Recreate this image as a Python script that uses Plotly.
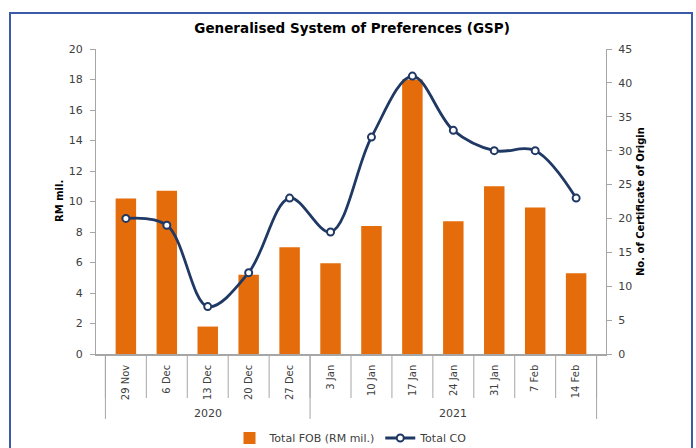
import plotly.graph_objects as go

# ---- data ----
weeks = ["29 Nov", "6 Dec", "13 Dec", "20 Dec", "27 Dec", "3 Jan",
         "10 Jan", "17 Jan", "24 Jan", "31 Jan", "7 Feb", "14 Feb"]
years = ["2020"] * 5 + ["2021"] * 7
fob = [10.2, 10.7, 1.8, 5.2, 7.0, 5.95, 8.4, 18.0, 8.7, 11.0, 9.6, 5.3]
co = [20, 19, 7, 12, 23, 18, 32, 41, 33, 30, 30, 23]

ORANGE = "#E46C0A"
NAVY = "#1F3864"
GRAY = "#A6A6A6"
FONT = "DejaVu Sans"
TXT = "#404040"

W, H = 696, 448
L, R, T, B = 96, 90, 49, 94
pw, ph = W - L - R, H - T - B

def px_x(p):
    return (p - L) / pw

def px_y(p):
    return (H - B - p) / ph

fig = go.Figure()
fig.add_trace(go.Bar(x=weeks, y=fob, name="Total FOB (RM mil.)",
                     marker=dict(color=ORANGE, line=dict(width=0))))
fig.add_trace(go.Scatter(x=weeks, y=co, name="Total CO", yaxis="y2",
                         mode="lines+markers",
                         line=dict(color=NAVY, width=2.8, shape="spline", smoothing=1.0),
                         marker=dict(size=7, color="white",
                                     line=dict(color=NAVY, width=2))))

shapes = []
# category separators
n = len(weeks)
for i in range(n + 1):
    shapes.append(dict(type="line", xref="x", yref="paper",
                       x0=i - 0.5, x1=i - 0.5, y0=0, y1=px_y(398),
                       line=dict(color=GRAY, width=1)))
# year group separators
bounds = [0]
for i in range(1, n):
    if years[i] != years[i - 1]:
        bounds.append(i)
bounds.append(n)
for b in bounds:
    shapes.append(dict(type="line", xref="x", yref="paper",
                       x0=b - 0.5, x1=b - 0.5, y0=0, y1=px_y(419),
                       line=dict(color=GRAY, width=1)))
# outer border
shapes.append(dict(type="rect", xref="paper", yref="paper",
                   x0=px_x(10), x1=px_x(692), y0=px_y(13), y1=px_y(470),
                   line=dict(color="#3B5BA9", width=2)))

annotations = []
for k in range(len(bounds) - 1):
    a, b = bounds[k], bounds[k + 1]
    annotations.append(dict(x=(a + b - 1) / 2, y=px_y(413), xref="x", yref="paper",
                            yanchor="middle",
                            text=years[a], showarrow=False,
                            font=dict(family=FONT, size=11, color=TXT)))
annotations.append(dict(x=px_x(52), y=0.5, xref="paper", yref="paper",
                        text="<b>RM mil.</b>", textangle=-90, showarrow=False,
                        font=dict(family=FONT, size=10, color="black")))
annotations.append(dict(x=px_x(648), y=0.5, xref="paper", yref="paper",
                        text="<b>No. of Certificate of Origin</b>", textangle=-90,
                        showarrow=False,
                        font=dict(family=FONT, size=10, color="black")))

fig.update_layout(
    width=W, height=H,
    margin=dict(l=L, r=R, t=T, b=B, autoexpand=False),
    paper_bgcolor="white", plot_bgcolor="white",
    title=dict(text="<b>Generalised System of Preferences (GSP)</b>",
               x=px_x(354), xanchor="center", y=1 - 28 / H, yanchor="middle",
               font=dict(family=FONT, size=13.5, color="black")),
    bargap=0.5,
    showlegend=True,
    legend=dict(orientation="h", x=0.5, xanchor="center", y=px_y(438), yanchor="middle",
                font=dict(family=FONT, size=11, color=TXT), bgcolor="rgba(0,0,0,0)"),
    xaxis=dict(type="category", showline=True, linecolor=GRAY, linewidth=1.5,
               ticks="", tickangle=-90, showgrid=False, automargin=False,
               tickfont=dict(family=FONT, size=10, color=TXT),
               ticklabelstandoff=5),
    yaxis=dict(range=[0, 20], dtick=2, showline=True, linecolor=GRAY, linewidth=1,
               ticks="outside", ticklen=5, tickcolor=GRAY, showgrid=False,
               zeroline=False, automargin=False, ticklabelstandoff=5,
               tickfont=dict(family=FONT, size=11, color=TXT)),
    yaxis2=dict(range=[0, 45], dtick=5, overlaying="y", side="right",
                showline=True, linecolor=GRAY, linewidth=1,
                ticks="outside", ticklen=5, tickcolor=GRAY, showgrid=False,
                zeroline=False, automargin=False, ticklabelstandoff=4,
                tickfont=dict(family=FONT, size=11, color=TXT)),
    shapes=shapes,
    annotations=annotations,
)

fig.write_html("out.html", config={"displayModeBar": False},
               post_script="document.body.style.margin='0';document.body.style.padding='0';")
